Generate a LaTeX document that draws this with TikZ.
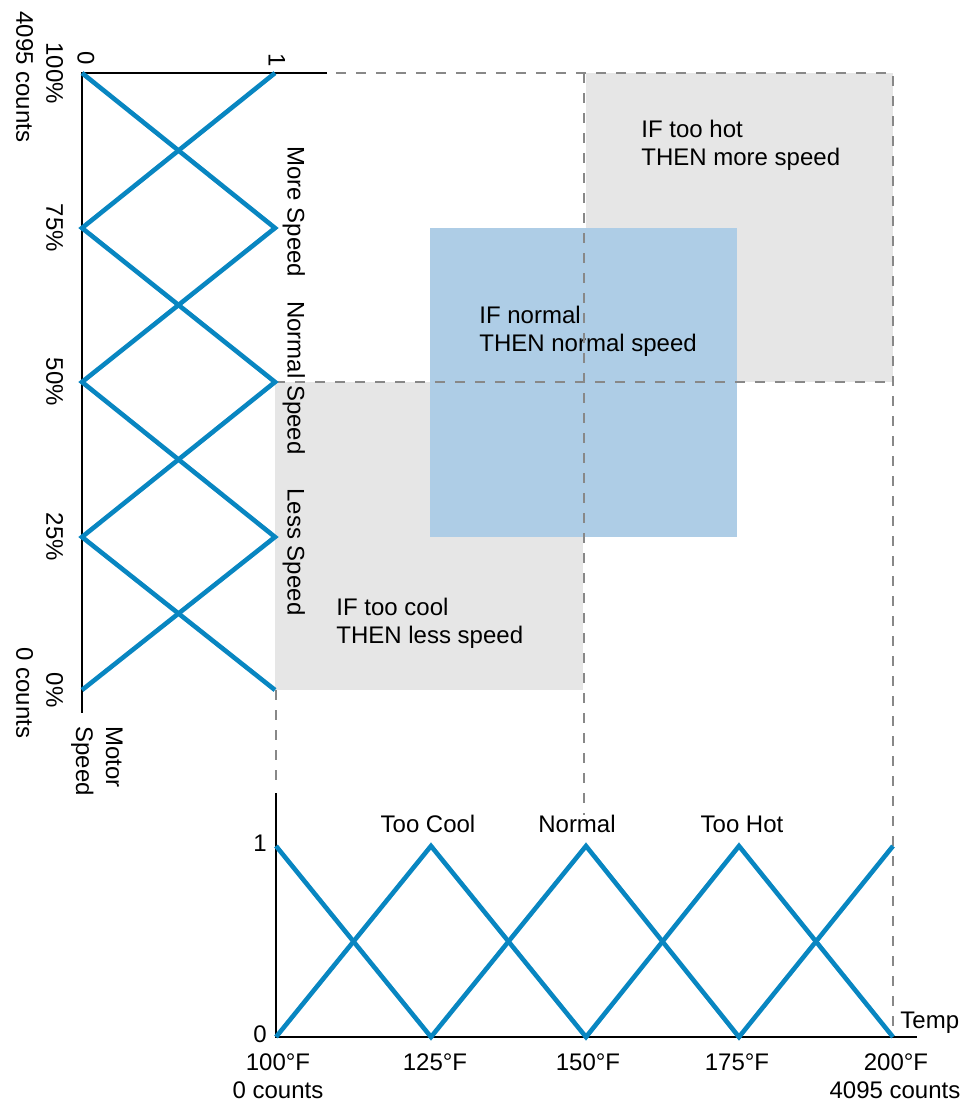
\documentclass[tikz,border=0pt]{standalone}
\usepackage{fontspec}
\setmainfont{Liberation Sans}
\definecolor{mfblue}{RGB}{8,134,193}
\definecolor{rulegray}{RGB}{230,230,230}
\definecolor{ruleblue}{RGB}{174,205,230}
\definecolor{guidegray}{RGB}{136,136,136}
\tikzset{
  mf/.style={mfblue, line width=2.3pt},
  guide/.style={guidegray, line width=1.2pt, dash pattern=on 5pt off 5pt},
  axisline/.style={black, line width=1.2pt},
  lbl/.style={font=\fontsize{12}{14}\selectfont, inner sep=1pt, text height=0.75em, text depth=0.2em},
  rotlbl/.style={lbl, rotate=-90},
  ruletext/.style={font=\fontsize{12}{14}\selectfont, inner sep=1pt, align=left, anchor=north west}
}
\begin{document}
\begin{tikzpicture}[x=0.5pt, y=-0.5pt]
\useasboundingbox (0,0) rectangle (972,1105);
% rule areas
\fill[rulegray] (275,382) rectangle (583,690);
\fill[rulegray] (586,73) rectangle (893,382);
\fill[ruleblue] (430,228) rectangle (737,537);
\node[ruletext] (hot) at (639,118) {IF too hot\\THEN more speed};
\node[ruletext] (norm) at (477,304) {IF normal\\THEN normal speed};
\node[ruletext] (cool) at (334,596) {IF too cool\\THEN less speed};
% guide lines
\draw[guide] (336,73) -- (893,73) -- (893,1033);
\draw[guide] (275,382) -- (893,382);
\draw[guide] (584,73) -- (584,815);
\draw[guide] (276,690) -- (276,787);

% motor speed (output)
\draw[axisline] (327,73) -- (82,73) -- (82,713);
\draw[mf] (82,73) -- (275,228) -- (82,382) -- (275,537) -- (82,690);
\draw[mf] (275,73) -- (82,228) -- (275,382) -- (82,537) -- (275,690);
\node[rotlbl] (m0) at (83,58) {0};
\node[rotlbl] (m1) at (274,60) {1};
\foreach \y/\p in {73/100, 228/75, 382/50, 537/25, 690/0}
{
    \node[rotlbl] (pct\p) at (52,\y) {\p\%};
}
\node[rotlbl] (cmax) at (22,77) {4095 counts};
\node[rotlbl] (cmin) at (22,693) {0 counts};
\node[rotlbl] (more) at (293,212) {More Speed};
\node[rotlbl] (normsp) at (293,378) {Normal Speed};
\node[rotlbl] (less) at (293,552) {Less Speed};
\node[ruletext, rotate=-90, font=\fontsize{12}{15}\selectfont] (motor) at (125,724) {Motor\\Speed};

% temperature (input)
\draw[axisline] (276,793) -- (276,1037) -- (917,1037);
\draw[mf] (276,846) -- (431,1037) -- (586,846) -- (739,1037) -- (893,846);
\draw[mf] (276,1037) -- (431,846) -- (586,1037) -- (739,846) -- (893,1037);
\node[lbl] (t1) at (260,846) {1};
\node[lbl] (t0) at (260,1037) {0};
\foreach \x/\t in {278/100, 435/125, 588/150, 737/175, 896/200}
{
    \node[lbl] (deg\t) at (\x,1065) {\t°F};
}
\node[lbl] (tmin) at (278,1093) {0 counts};
\node[lbl] (tmax) at (895,1093) {4095 counts};
\node[lbl] (cool) at (428,827) {Too Cool};
\node[lbl] (normal) at (577,827) {Normal};
\node[lbl] (hot) at (742,827) {Too Hot};
\node[lbl, anchor=base west] (temp) at (898,1028) {Temp};
\end{tikzpicture}
\end{document}
